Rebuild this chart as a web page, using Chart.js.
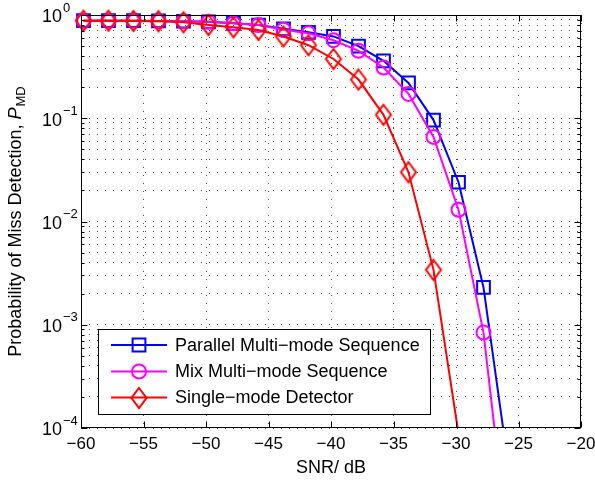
<!DOCTYPE html>
<html lang="en">
<head>
<meta charset="UTF-8">
<title>Probability of Miss Detection vs SNR</title>
<script src="https://cdn.jsdelivr.net/npm/chart.js"></script>
<style>
  html, body { margin: 0; padding: 0; background: #fff; }
  #wrap { width: 595px; height: 481px; }
</style>
</head>
<body>
<div id="wrap"><canvas id="pmd" width="595" height="481"></canvas></div>
<script>
// SNR sample points (dB)
const snr = [-59.8, -57.8, -55.8, -53.8, -51.8, -49.8, -47.8, -45.8, -43.8, -41.8, -39.8, -37.8, -35.8, -33.8, -31.8, -29.8, -27.8, -25.8];

// P_MD (last values fall below the 1e-4 floor)
const pParallel = [0.88, 0.88, 0.88, 0.875, 0.87, 0.86, 0.83, 0.80, 0.735, 0.68, 0.62, 0.50, 0.36, 0.22, 0.096, 0.024, 0.0023, 0.000042];
const pMix      = [0.88, 0.88, 0.88, 0.875, 0.87, 0.86, 0.83, 0.80, 0.72, 0.665, 0.57, 0.45, 0.31, 0.172, 0.066, 0.013, 0.00084, 0.0000066];
const pSingle   = [0.88, 0.88, 0.875, 0.87, 0.85, 0.80, 0.76, 0.715, 0.62, 0.51, 0.375, 0.237, 0.108, 0.030, 0.0034, 0.000088];

const seriesNames = ['Parallel Multi\u2212mode Sequence', 'Mix Multi\u2212mode Sequence', 'Single\u2212mode Detector'];
const seriesColors = ['#0000ff', '#ff00ff', '#ff0000'];

// axis ticks
const xTicks = [-60, -55, -50, -45, -40, -35, -30, -25, -20];
const yDecades = [1e-4, 1e-3, 1e-2, 1e-1, 1];
const yExponents = ['\u22124', '\u22123', '\u22122', '\u22121', '0'];

const FONT = '"Liberation Sans", Arial, Helvetica, sans-serif';
const yMin = 1e-4, yMax = 1;

// grid positions for log axis: 1..9 times each decade
const yGrid = [];
yDecades.forEach((d, i) => {
    if (i === yDecades.length - 1) { yGrid.push(d); return; }
    for (let k = 1; k <= 9; k++) yGrid.push(d * k);
});

// MATLAB diamonds are a bit taller than wide, so draw one into a small canvas
const diamond = document.createElement('canvas');
diamond.width = 20;
diamond.height = 26;
(function () {
    const c = diamond.getContext('2d');
    c.strokeStyle = seriesColors[2];
    c.lineWidth = 2;
    c.beginPath();
    c.moveTo(10, 3); c.lineTo(17.5, 13); c.lineTo(10, 23); c.lineTo(2.5, 13);
    c.closePath();
    c.stroke();
})();

function toPoints(ys) {
    return ys.map((v, i) => ({ x: snr[i], y: v }));
}

function hideBelow(r) {
    return ctx => (ctx.raw && ctx.raw.y < yMin) ? 0 : r;
}

function makeSet(i, ys, style, radius, order) {
    return {
        label: seriesNames[i],
        data: toPoints(ys),
        borderColor: seriesColors[i],
        borderWidth: 2,
        pointStyle: style,
        pointRadius: hideBelow(radius),
        pointHoverRadius: hideBelow(radius),
        pointBorderWidth: 2,
        pointBorderColor: seriesColors[i],
        pointBackgroundColor: 'rgba(0,0,0,0)',
        tension: 0,
        order: order,
        clip: { left: 10, top: 10, right: 10, bottom: 0 }
    };
}

// frame, inward ticks, y labels, y title and legend (MATLAB look)
const matlabBits = {
    id: 'matlabBits',
    afterDraw(chart) {
        const { ctx, chartArea: a, scales: { x, y } } = chart;
        const L = Math.round(a.left) + 0.5, R = Math.round(a.right) - 0.5;
        const T = Math.round(a.top) + 0.5, B = Math.round(a.bottom) - 0.5;
        ctx.save();

        // tick marks pointing inwards
        ctx.strokeStyle = '#000';
        ctx.lineWidth = 1;
        ctx.beginPath();
        xTicks.forEach(v => {
            const px = Math.round(x.getPixelForValue(v)) + 0.5;
            ctx.moveTo(px, B); ctx.lineTo(px, B - 6);
            ctx.moveTo(px, T); ctx.lineTo(px, T + 6);
        });
        yGrid.forEach(v => {
            const py = Math.round(y.getPixelForValue(v)) + 0.5;
            const len = yDecades.includes(v) ? 6 : 3;
            ctx.moveTo(L, py); ctx.lineTo(L + len, py);
            ctx.moveTo(R, py); ctx.lineTo(R - len, py);
        });
        ctx.stroke();
        ctx.strokeRect(L, T, R - L, B - T);

        // y tick labels 10^n
        ctx.fillStyle = '#000';
        ctx.textAlign = 'left';
        ctx.textBaseline = 'middle';
        yDecades.forEach((v, i) => {
            const py = y.getPixelForValue(v);
            ctx.font = '18px ' + FONT;
            ctx.fillText('10', 42, py + 2.5);
            const w = ctx.measureText('10').width;
            ctx.font = '13px ' + FONT;
            ctx.fillText(yExponents[i], 42 + w + 1, py - 7);
        });

        // y title with italic P and subscript MD
        const main = 'Probability of Miss Detection, ';
        ctx.font = '18px ' + FONT;
        const w1 = ctx.measureText(main).width;
        ctx.font = 'italic 18px ' + FONT;
        const w2 = ctx.measureText('P').width;
        ctx.font = '13px ' + FONT;
        const w3 = ctx.measureText('MD').width;
        const total = w1 + w2 + 1 + w3;
        ctx.translate(16, (a.top + a.bottom) / 2);
        ctx.rotate(-Math.PI / 2);
        let tx = -total / 2;
        ctx.font = '18px ' + FONT;
        ctx.fillText(main, tx, 0);
        tx += w1;
        ctx.font = 'italic 18px ' + FONT;
        ctx.fillText('P', tx, 0);
        tx += w2 + 1;
        ctx.font = '13px ' + FONT;
        ctx.fillText('MD', tx, 5);
        ctx.setTransform(1, 0, 0, 1, 0, 0);

        // legend box
        const bx = 98.5, by = 329.5, bw = 332, bh = 85;
        ctx.fillStyle = '#fff';
        ctx.fillRect(bx, by, bw, bh);
        ctx.strokeStyle = '#000';
        ctx.lineWidth = 1;
        ctx.strokeRect(bx, by, bw, bh);
        const rows = [345, 371.5, 397.5];
        const shapes = ['square', 'circle', 'diamond'];
        rows.forEach((ry, i) => {
            ctx.strokeStyle = seriesColors[i];
            ctx.lineWidth = 2;
            ctx.beginPath();
            ctx.moveTo(111, ry); ctx.lineTo(167, ry);
            ctx.stroke();
            const mx = 139;
            if (shapes[i] === 'square') {
                ctx.beginPath();
                ctx.rect(mx - 6.4, ry - 6.4, 12.8, 12.8);
                ctx.stroke();
            } else if (shapes[i] === 'circle') {
                ctx.beginPath();
                ctx.arc(mx, ry, 7, 0, Math.PI * 2);
                ctx.stroke();
            } else {
                ctx.drawImage(diamond, mx - 10, Math.round(ry) - 13);
            }
            ctx.fillStyle = '#000';
            ctx.font = '18px ' + FONT;
            ctx.textBaseline = 'middle';
            ctx.fillText(seriesNames[i], 175, ry + 1);
        });
        ctx.restore();
    }
};

const gridColor = 'rgba(0,0,0,0.7)';

new Chart(document.getElementById('pmd').getContext('2d'), {
    type: 'line',
    data: {
        datasets: [
            makeSet(0, pParallel, 'rect', 9, 3),
            makeSet(1, pMix, 'circle', 7, 2),
            makeSet(2, pSingle, diamond, 8, 1)
        ]
    },
    options: {
        responsive: false,
        animation: false,
        devicePixelRatio: 1,
        layout: { padding: { left: 81, right: 14, top: 15, bottom: 0 } },
        plugins: {
            legend: { display: false },
            tooltip: { enabled: false }
        },
        scales: {
            x: {
                type: 'linear',
                min: -60,
                max: -20,
                afterBuildTicks: s => { s.ticks = xTicks.map(v => ({ value: v })); },
                afterFit: s => { s.height = 53; s.paddingLeft = 0; s.paddingRight = 0; },
                ticks: {
                    autoSkip: false,
                    maxRotation: 0,
                    padding: 6,
                    color: '#000',
                    font: { family: FONT, size: 17 },
                    callback: v => v < 0 ? '\u2212' + Math.abs(v) : String(v)
                },
                grid: { color: gridColor, lineWidth: 1, drawTicks: false },
                border: { display: false, dash: [1, 7] },
                title: {
                    display: true,
                    text: 'SNR/ dB',
                    color: '#000',
                    font: { family: FONT, size: 18 },
                    padding: { top: 0, bottom: 2 }
                }
            },
            y: {
                type: 'logarithmic',
                min: yMin,
                max: yMax,
                afterBuildTicks: s => { s.ticks = yGrid.map(v => ({ value: v, major: yDecades.includes(v) })); },
                afterFit: s => { s.width = 0; },
                ticks: { display: false },
                grid: { color: gridColor, lineWidth: 1, drawTicks: false },
                border: { display: false, dash: [1, 7] }
            }
        }
    },
    plugins: [matlabBits]
});
</script>
</body>
</html>
